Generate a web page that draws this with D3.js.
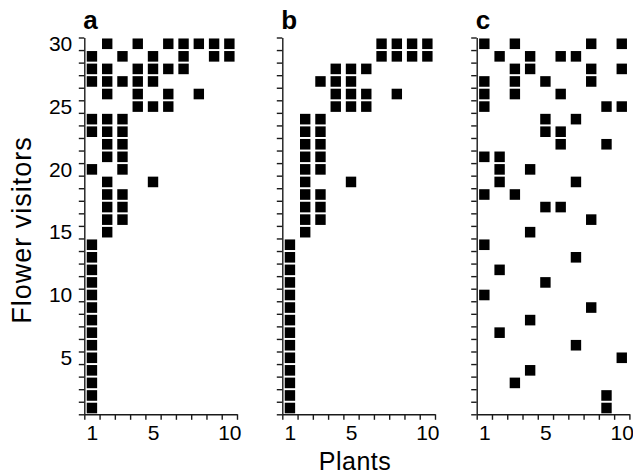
<!DOCTYPE html>
<html>
<head>
<meta charset="utf-8">
<script src="https://cdn.jsdelivr.net/npm/d3@7/dist/d3.min.js"></script>
<style>
  body { margin: 0; background: #fff; }
  svg { display: block; font-family: "Liberation Sans", Arial, sans-serif; }
</style>
</head>
<body>
<svg id="chart" width="633" height="475"></svg>
<script>
// rows: index i -> flower visitor i + 1, listing the plants it visits
var ones = [[1],[1],[1],[1],[1],[1],[1],[1],[1],[1],[1],[1],[1],[1]];

var panelA = ones.concat([
    [2], [2,3], [2,3], [2,3], [2,5], [1,3], [2,3], [2,3], [1,2,3], [1,2,3],
    [4,5,6], [2,4,6,8], [1,2,3,4,5], [1,2,4,5,6,7], [1,3,5,7,9,10], [2,4,6,7,8,9,10]
]);

var panelB = ones.concat([
    [2], [2,3], [2,3], [2,3], [2,5], [2,3], [2,3], [2,3], [2,3], [2,3],
    [4,5,6], [4,5,6,8], [3,4,5], [4,5,6], [7,8,9,10], [7,8,9,10]
]);

var panelC = [
    [9], [9], [3], [4], [10], [7], [2], [4], [8], [1],
    [5], [2], [7], [1], [4], [8], [5,6], [1,3], [2,7], [2,4],
    [1,2], [6,9], [5,6], [5,7], [1,9,10], [1,3,6], [1,3,5,8], [3,4,8,10], [2,4,6,7], [1,3,8,10]
];

var panelNames = ['a', 'b', 'c'];
var xLabels = [1, 5, 10];
var yLabels = [5, 10, 15, 20, 25, 30];
var nPlants = 10;
var nVisitors = 30;

var panels = [
    { name: panelNames[0], rows: panelA, left: 84.3 },
    { name: panelNames[1], rows: panelB, left: 282.3 },
    { name: panelNames[2], rows: panelC, left: 476.7 }
];

// "top" is taken by window.top, hence plotTop
var plotTop = 37.5, plotBottom = 414.3, plotW = 152.7;
var plotH = plotBottom - plotTop;
var ink = '#1a1a1a';

var x = d3.scaleLinear().domain([0.5, nPlants + 0.5]).range([0, plotW]);
var y = d3.scaleLinear().domain([0.5, nVisitors + 0.5]).range([plotH, 0]);

var xBounds = d3.range(0.5, nPlants + 1, 1);
var yBounds = d3.range(0.5, nVisitors + 1, 1);

var svg = d3.select('#chart');

function cells(rows) {
    let out = [];
    rows.forEach((plants, i) => plants.forEach(p => out.push({ plant: p, visitor: i + 1 })));
    return out;
}

panels.forEach((panel, k) => {
    let g = svg.append('g').attr('transform', `translate(${panel.left},${plotTop})`);

    // tick marks on the cell boundaries
    g.append('g')
        .attr('transform', `translate(0,${plotH})`)
        .call(d3.axisBottom(x).tickValues(xBounds).tickFormat('').tickSize(5.5).tickSizeOuter(0))
        .call(a => a.selectAll('path, line').attr('stroke', ink).attr('stroke-width', 1.4));

    g.append('g')
        .call(d3.axisLeft(y).tickValues(yBounds).tickFormat('').tickSize(5.5).tickSizeOuter(0))
        .call(a => a.selectAll('path, line').attr('stroke', ink).attr('stroke-width', 1.4));

    // labels sit on the cell centres
    g.append('g')
        .attr('transform', `translate(0,${plotH})`)
        .call(d3.axisBottom(x).tickValues(xLabels).tickSize(0).tickPadding(11))
        .call(a => a.select('.domain').remove())
        .call(a => a.selectAll('text')
            .attr('font-family', '"Liberation Sans", Arial, sans-serif')
            .attr('font-size', 21).attr('fill', '#000'));

    if (k === 0) {
        g.append('g')
            .call(d3.axisLeft(y).tickValues(yLabels).tickSize(0).tickPadding(12))
            .call(a => a.select('.domain').remove())
            .call(a => a.selectAll('text')
                .attr('font-family', '"Liberation Sans", Arial, sans-serif')
                .attr('font-size', 21).attr('fill', '#000'));
    }

    let bw = 10.4, bh = 10.6;
    g.selectAll('rect.cell')
        .data(cells(panel.rows))
        .enter().append('rect')
            .attr('class', 'cell')
            .attr('x', d => x(d.plant) - bw / 2)
            .attr('y', d => y(d.visitor) - bh / 2)
            .attr('width', bw)
            .attr('height', bh)
            .attr('fill', '#000');

    svg.append('text')
        .attr('x', panel.left - 1)
        .attr('y', 29)
        .attr('font-size', 26)
        .attr('font-weight', 'bold')
        .text(panel.name);
});

svg.append('text')
    .attr('x', 355)
    .attr('y', 470)
    .attr('text-anchor', 'middle')
    .attr('font-size', 25)
    .attr('letter-spacing', 0.5)
    .text('Plants');

svg.append('text')
    .attr('transform', `translate(31,${(plotTop + plotBottom) / 2 + 4}) rotate(-90)`)
    .attr('text-anchor', 'middle')
    .attr('font-size', 27)
    .attr('letter-spacing', 1)
    .text('Flower visitors');
</script>
</body>
</html>
